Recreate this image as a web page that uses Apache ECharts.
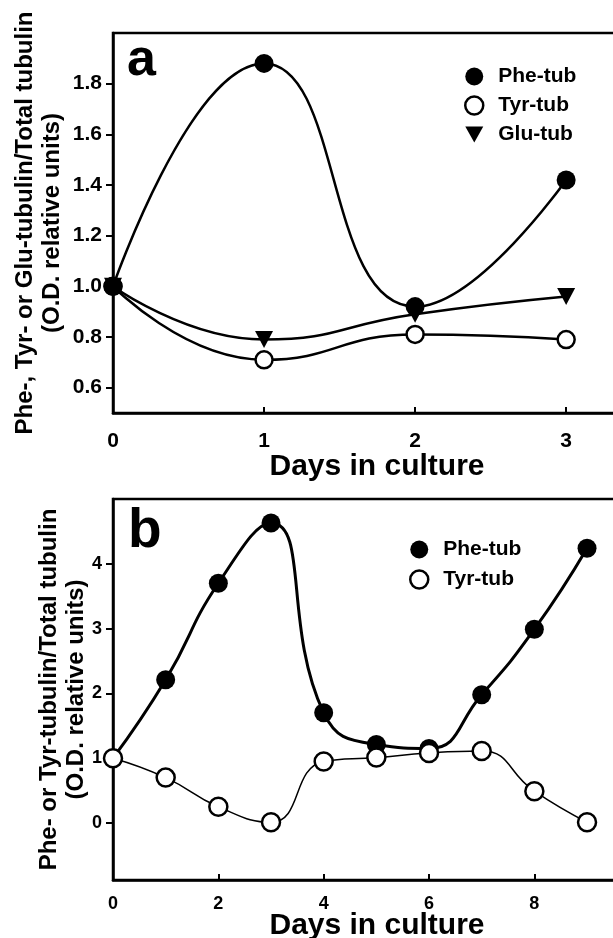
<!DOCTYPE html>
<html>
<head>
<meta charset="utf-8">
<script src="https://cdn.jsdelivr.net/npm/echarts@6/dist/echarts.min.js"></script>
<style>
html,body{margin:0;padding:0;background:#fff;}
#chart{width:613px;height:938px;}
</style>
</head>
<body>
<div id="chart"></div>
<script>
// ---- Data ----
const daysA = [0, 1, 2, 3];
const pheA = [1.0, 1.88, 0.92, 1.42];
const tyrA = [1.0, 0.71, 0.81, 0.79];
const gluA = [1.0, 0.79, 0.89, 0.96];

const daysB = [0, 1, 2, 3, 4, 5, 6, 7, 8, 9];
const pheB = [1.0, 2.21, 3.70, 4.63, 1.70, 1.21, 1.15, 1.98, 2.99, 4.24];
const tyrB = [1.0, 0.70, 0.25, 0.01, 0.95, 1.01, 1.08, 1.11, 0.49, 0.01];

const yTicksA = [0.6, 0.8, 1.0, 1.2, 1.4, 1.6, 1.8];
const xTicksA = [0, 1, 2, 3];
const yTicksB = [0, 1, 2, 3, 4];
const xTicksB = [0, 2, 4, 6, 8];

const FONT = '"Liberation Sans", Arial, sans-serif';

function pairs(xs, ys) { return xs.map((x, i) => [x, ys[i]]); }

const chart = echarts.init(document.getElementById('chart'), null, {renderer: 'canvas'});

const axisLine = {show: true, onZero: false, lineStyle: {color: '#000', width: 2.5}};

function xAxisDef(gi, max, ticks, fs, margin, gap) {
  return {
    type: 'value', gridIndex: gi, min: 0, max: max,
    axisLine: axisLine,
    axisTick: {show: true, inside: true, length: 6, lineStyle: {color: '#000', width: 2}, customValues: ticks.filter(v => v !== 0)},
    axisLabel: {customValues: ticks, color: '#000', fontFamily: FONT, fontWeight: 'bold', fontSize: fs, margin: margin},
    splitLine: {show: false},
    name: 'Days in culture', nameLocation: 'middle', nameGap: gap, nameMoveOverlap: false,
    nameTextStyle: {color: '#000', fontFamily: FONT, fontWeight: 'bold', fontSize: 30, padding: [0, 0, 0, 25]}
  };
}

function yAxisDef(gi, min, max, ticks, fs, fmt, name, gap) {
  return {
    type: 'value', gridIndex: gi, min: min, max: max, position: 'left',
    axisLine: axisLine,
    axisTick: {show: true, inside: false, length: 6, lineStyle: {color: '#000', width: 2}, customValues: ticks},
    axisLabel: {customValues: ticks, color: '#000', fontFamily: FONT, fontWeight: 'bold', fontSize: fs, margin: 11, formatter: fmt},
    splitLine: {show: false},
    name: name, nameLocation: 'middle', nameGap: gap, nameRotate: 90, nameMoveOverlap: false,
    nameTextStyle: {color: '#000', fontFamily: FONT, fontWeight: 'bold', fontSize: 24, lineHeight: 27, align: 'center'}
  };
}

function yRightDef(gi, min, max, ticks) {
  return {
    type: 'value', gridIndex: gi, min: min, max: max, position: 'right',
    axisLine: {show: false},
    axisTick: {show: true, inside: true, length: 7, lineStyle: {color: '#000', width: 2}, customValues: ticks},
    axisLabel: {show: false},
    splitLine: {show: false}
  };
}

const openCircle = {color: '#fff', borderColor: '#000', borderWidth: 2.5};
const filled = {color: '#000', borderColor: '#000', borderWidth: 0};
const triPath = 'path://M0,0L20,0L10,18Z';

const option = {
  backgroundColor: '#fff',
  animation: false,
  title: [
    {text: 'a', left: 122, top: 30, textStyle: {fontFamily: FONT, fontWeight: 'bold', fontSize: 52, color: '#000'}},
    {text: 'b', left: 123, top: 499, textStyle: {fontFamily: FONT, fontWeight: 'bold', fontSize: 55, color: '#000'}}
  ],
  grid: [
    {left: 113, top: 33, width: 503, height: 380, show: true, borderColor: '#000', borderWidth: 2.5, backgroundColor: 'transparent', outerBoundsMode: 'none', containLabel: false},
    {left: 113, top: 499, width: 503, height: 381, show: true, borderColor: '#000', borderWidth: 2.5, backgroundColor: 'transparent', outerBoundsMode: 'none', containLabel: false}
  ],
  xAxis: [
    xAxisDef(0, 3.33, xTicksA, 21, 18, 39),
    xAxisDef(1, 9.55, xTicksB, 18, 15, 31)
  ],
  yAxis: [
    yAxisDef(0, 0.5, 2.0, yTicksA, 21, v => v.toFixed(1), 'Phe-, Tyr- or Glu-tubulin/Total tubulin\n(O.D. relative units)', 47),
    yAxisDef(1, -0.88, 5.0, yTicksB, 18, v => String(v), 'Phe- or Tyr-tubulin/Total tubulin\n(O.D. relative units)', 23),
    yRightDef(0, 0.5, 2.0, yTicksA),
    yRightDef(1, -0.88, 5.0, yTicksB)
  ],
  legend: [
    {
      orient: 'vertical', left: 459, top: 61, itemWidth: 18, itemHeight: 18, itemGap: 8,
      selectedMode: false,
      textStyle: {color: '#000', fontFamily: FONT, fontWeight: 'bold', fontSize: 21, lineHeight: 18, padding: [0, 0, 0, 10]},
      data: [
        {name: 'Phe-tub', icon: 'circle', itemStyle: filled},
        {name: 'Tyr-tub', icon: 'circle', itemStyle: openCircle},
        {name: 'Glu-tub', icon: triPath, itemStyle: filled}
      ]
    },
    {
      orient: 'vertical', left: 404, top: 534, itemWidth: 18, itemHeight: 18, itemGap: 9,
      selectedMode: false,
      textStyle: {color: '#000', fontFamily: FONT, fontWeight: 'bold', fontSize: 21, lineHeight: 18, padding: [0, 0, 0, 10]},
      data: [
        {name: 'Phe-tub', icon: 'circle', itemStyle: filled},
        {name: 'Tyr-tub', icon: 'circle', itemStyle: openCircle}
      ]
    }
  ],
  series: [
    {name: 'Tyr-tub', type: 'line', xAxisIndex: 0, yAxisIndex: 0, data: pairs(daysA, tyrA), smooth: 0.5,
     symbol: 'circle', symbolSize: 17, itemStyle: openCircle, lineStyle: {color: '#000', width: 2.5}, z: 2},
    {name: 'Phe-tub', type: 'line', xAxisIndex: 0, yAxisIndex: 0, data: pairs(daysA, pheA), smooth: 0.5,
     symbol: 'circle', symbolSize: 19, itemStyle: filled, lineStyle: {color: '#000', width: 2.5}, z: 3},
    {name: 'Glu-tub', type: 'line', xAxisIndex: 0, yAxisIndex: 0, data: pairs(daysA, gluA), smooth: 0.5,
     symbol: triPath, symbolSize: [18, 17], itemStyle: filled, lineStyle: {color: '#000', width: 2.5}, z: 4},
    {name: 'Phe-tub', type: 'line', xAxisIndex: 1, yAxisIndex: 1, data: pairs(daysB, pheB), smooth: 0.5,
     symbol: 'circle', symbolSize: 19, itemStyle: filled, lineStyle: {color: '#000', width: 3}, z: 3},
    {name: 'Tyr-tub', type: 'line', xAxisIndex: 1, yAxisIndex: 1, data: pairs(daysB, tyrB), smooth: 0.5,
     symbol: 'circle', symbolSize: 18, itemStyle: openCircle, lineStyle: {color: '#000', width: 1.5}, z: 4}
  ]
};

chart.setOption(option);
</script>
</body>
</html>
